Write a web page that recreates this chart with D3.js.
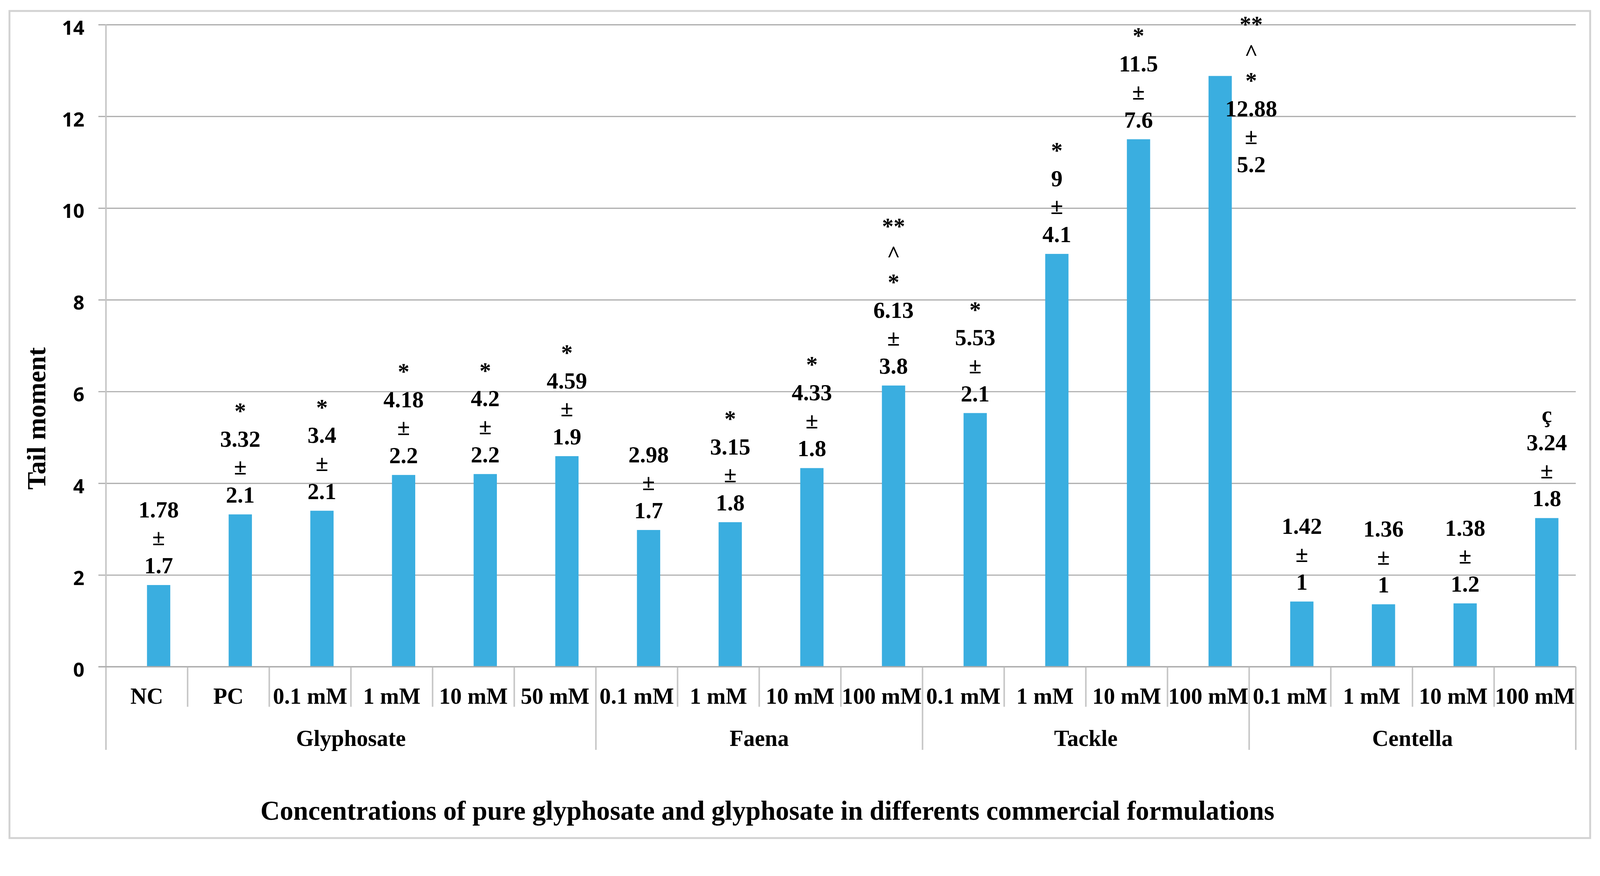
<!DOCTYPE html>
<html>
<head>
<meta charset="utf-8">
<script src="https://cdn.jsdelivr.net/npm/d3@7"></script>
<style>
  html, body { margin: 0; padding: 0; background: #fff; overflow: hidden; }
  svg { display: block; width: 100vw; height: 100vh; }
</style>
</head>
<body>
<svg id="chart"></svg>
<script>
// data
const groups = ["Glyphosate", "Faena", "Tackle", "Centella"];
const groupSizes = [6, 4, 4, 4];
const concentrations = ["NC", "PC", "0.1 mM", "1 mM", "10 mM", "50 mM",
    "0.1 mM", "1 mM", "10 mM", "100 mM",
    "0.1 mM", "1 mM", "10 mM", "100 mM",
    "0.1 mM", "1 mM", "10 mM", "100 mM"];
const means = [1.78, 3.32, 3.4, 4.18, 4.2, 4.59,
    2.98, 3.15, 4.33, 6.13,
    5.53, 9, 11.5, 12.88,
    1.42, 1.36, 1.38, 3.24];
const sds = ["1.7", "2.1", "2.1", "2.2", "2.2", "1.9",
    "1.7", "1.8", "1.8", "3.8",
    "2.1", "4.1", "7.6", "5.2",
    "1", "1", "1.2", "1.8"];
const marks = [[], ["*"], ["*"], ["*"], ["*"], ["*"],
    [], ["*"], ["*"], ["**", "^", "*"],
    ["*"], ["*"], ["*"], ["**", "^", "*"],
    [], [], [], ["ç"]];
const yTicks = [0, 2, 4, 6, 8, 10, 12, 14];

// layout
const W = 4228, H = 2243;
const plotL = 280, plotR = 4164, plotT = 65, plotB = 1762;
const serif = "'Liberation Serif', 'Times New Roman', serif";
const sans = "'Open Sans', Lato, sans-serif";
const gridCol = "#ababab", divCol = "#c6c6c6";
const barCol = "#3aaee0";

// viewBox so the whole chart always fits the window (pinned to the top)
const svg = d3.select("#chart")
    .attr("viewBox", "0 0 " + W + " " + H)
    .attr("preserveAspectRatio", "xMidYMin meet");

svg.append("rect")
    .attr("x", 25).attr("y", 29).attr("width", 4177).attr("height", 2186)
    .attr("fill", "#fff").attr("stroke", "#d2d2d2").attr("stroke-width", 5);

const idx = d3.range(means.length);
const x = d3.scaleBand().domain(idx).range([plotL, plotR]).padding(0);
const y = d3.scaleLinear().domain([0, 14]).range([plotB, plotT]);
const bw = x.bandwidth();
const barW = bw * 0.285;
const barShift = bw * 0.145; // bars sit a bit right of the category centre

// gridlines
svg.append("g")
    .attr("transform", "translate(" + (plotL - 20) + ",0)")
    .call(d3.axisRight(y).tickValues(yTicks).tickSize(plotR - plotL + 20).tickFormat(""))
    .call(g => g.select(".domain").remove())
    .call(g => g.selectAll("line").attr("stroke", gridCol).attr("stroke-width", 3));

// y tick labels
svg.append("g")
    .attr("transform", "translate(" + plotL + ",0)")
    .call(d3.axisLeft(y).tickValues(yTicks).tickSize(0).tickPadding(57))
    .call(g => g.select(".domain").remove())
    .call(g => g.selectAll("text")
        .attr("dy", "0.5em")
        .attr("font-family", sans).attr("font-weight", 700)
        .attr("font-size", 52).attr("fill", "#000"));

// category dividers and group dividers
let bounds = [0];
groupSizes.forEach(n => bounds.push(bounds[bounds.length - 1] + n));
const xEdge = i => (i >= means.length ? plotR : x(i));

svg.append("g").selectAll("line")
    .data(d3.range(1, means.length).filter(i => !bounds.includes(i)))
    .join("line")
    .attr("x1", xEdge).attr("x2", xEdge)
    .attr("y1", plotB).attr("y2", 1868)
    .attr("stroke", divCol).attr("stroke-width", 4);

svg.append("g").selectAll("line")
    .data(bounds)
    .join("line")
    .attr("x1", xEdge).attr("x2", xEdge)
    .attr("y1", i => (i === 0 ? plotT : plotB)).attr("y2", 1982)
    .attr("stroke", divCol).attr("stroke-width", 4);

// bars
svg.append("g").selectAll("rect")
    .data(idx)
    .join("rect")
    .attr("x", i => x(i) + bw / 2 + barShift - barW / 2)
    .attr("width", barW)
    .attr("y", i => y(means[i]))
    .attr("height", i => y(0) - y(means[i]))
    .attr("fill", barCol);

// category axis
svg.append("g")
    .attr("transform", "translate(0," + plotB + ")")
    .call(d3.axisBottom(x).tickSize(0).tickPadding(55).tickFormat(i => concentrations[i]))
    .call(g => g.select(".domain").remove())
    .call(g => g.selectAll("text")
        .attr("font-family", serif).attr("font-weight", 700)
        .attr("font-size", 60).attr("fill", "#000"));

// zero line on top of bars
svg.append("line")
    .attr("x1", plotL - 20).attr("x2", plotR)
    .attr("y1", y(0)).attr("y2", y(0))
    .attr("stroke", gridCol).attr("stroke-width", 3);

// group labels
svg.append("g").selectAll("text")
    .data(groups)
    .join("text")
    .attr("x", (d, k) => (xEdge(bounds[k]) + xEdge(bounds[k + 1])) / 2)
    .attr("y", 1972)
    .attr("text-anchor", "middle")
    .attr("font-family", serif).attr("font-weight", 700).attr("font-size", 60)
    .text(d => d);

// data labels: significance marks, mean, ±, sd stacked above each bar
const lineH = 74, gap = 31, fs = 61;
const labels = svg.append("g")
    .attr("font-family", serif).attr("font-weight", 700).attr("font-size", fs)
    .attr("text-anchor", "middle");

idx.forEach(i => {
    const lines = marks[i].concat([String(means[i]), "±", sds[i]]);
    let cx = x(i) + bw / 2 + barShift;
    let lastBase = y(means[i]) - gap;
    let firstBase = lastBase - (lines.length - 1) * lineH;
    if (firstBase - fs * 0.33 < plotT) {
        // no room above: put it beside the bar, starting at the top
        firstBase = plotT + fs * 0.33;
        cx += bw * 0.38;
    }
    labels.append("text")
        .selectAll("tspan")
        .data(lines)
        .join("tspan")
        .attr("x", cx)
        .attr("y", (d, k) => firstBase + k * lineH)
        .text(d => d);
});

// axis titles
svg.append("text")
    .attr("transform", "translate(120,1106) rotate(-90)")
    .attr("text-anchor", "middle")
    .attr("font-family", serif).attr("font-weight", 700).attr("font-size", 70)
    .text("Tail moment");

svg.append("text")
    .attr("x", 2028).attr("y", 2167)
    .attr("text-anchor", "middle")
    .attr("font-family", serif).attr("font-weight", 700).attr("font-size", 71)
    .text("Concentrations of pure glyphosate and glyphosate in differents commercial formulations");
</script>
</body>
</html>
